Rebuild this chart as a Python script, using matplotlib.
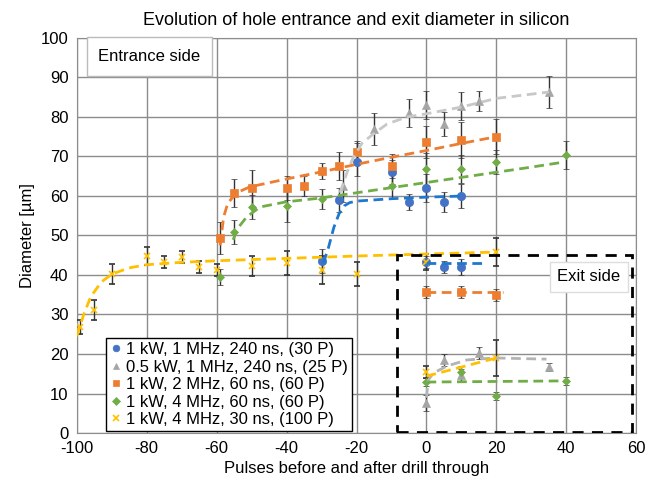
import matplotlib
matplotlib.use("Agg")
import matplotlib.pyplot as plt
from matplotlib.patches import Rectangle

plt.rcParams['font.family'] = ['Liberation Sans', 'DejaVu Sans']
plt.rcParams['axes.unicode_minus'] = False

# --- measured points (entrance side) ---
blue_x = [-30, -25, -20, -10, -5, 0, 5, 10]
blue_y = [43.5, 59, 68.5, 66, 58.5, 62, 58.5, 60]
blue_e = [3.0, 3.0, 3.5, 3.0, 2.0, 3.5, 2.5, 3.0]

gray_x = [-24, -20, -15, -5, 0, 5, 10, 15, 35]
gray_y = [62.5, 71, 77, 81, 83, 78.2, 82.8, 84, 86.3]
gray_e = [4.0, 3.0, 4.0, 3.5, 3.5, 3.0, 3.5, 2.5, 4.0]

orange_x = [-59, -55, -50, -40, -35, -30, -25, -20, -10, 0, 10, 20]
orange_y = [49.4, 60.8, 62, 62, 62.5, 66.3, 67.6, 71, 67.6, 73.7, 74.2, 75]
orange_e = [4.0, 3.5, 4.5, 3.0, 2.5, 2.0, 3.5, 2.5, 3.0, 4.0, 4.5, 4.5]

green_x = [-59, -55, -50, -40, -30, -10, 0, 10, 20, 40]
green_y = [39.5, 50.9, 57.2, 57.5, 59.2, 62.5, 66.8, 66.8, 68.6, 70.4]
green_e = [2.0, 3.0, 3.0, 4.0, 2.5, 3.0, 4.0, 3.5, 3.0, 3.5]

yellow_x = [-99, -95, -90, -80, -75, -70, -65, -60, -50, -40, -30, -20, 0, 20]
yellow_y = [26.8, 31.1, 40.2, 44.8, 43.3, 44.6, 42, 41.3, 42.2, 43, 41.3, 40.2, 43.3, 45.8]
yellow_e = [1.8, 2.5, 2.6, 2.2, 1.5, 1.5, 1.6, 1.5, 2.5, 3.0, 3.5, 3.0, 2.0, 3.5]

# --- measured points (exit side) ---
blue_exit_x = [0, 5, 10]
blue_exit_y = [43.3, 42, 42]
blue_exit_e = [1.5, 1.5, 2.0]

gray_exit_x = [0, 5, 10, 15, 35]
gray_exit_y = [7.6, 18.5, 14.7, 20.3, 16.8]
gray_exit_e = [2.0, 1.5, 1.5, 1.5, 1.0]

orange_exit_x = [0, 10, 20]
orange_exit_y = [35.7, 35.7, 34.9]
orange_exit_e = [1.5, 1.5, 1.5]

green_exit_x = [0, 10, 20, 40]
green_exit_y = [12.9, 15.4, 9.4, 13.2]
green_exit_e = [1.0, 1.5, 1.0, 1.0]

yellow_exit_x = [0, 20]
yellow_exit_y = [15.4, 19]
yellow_exit_e = [1.5, 4.5]

# --- trend lines ---
blue_fit_x = [-29.5, -28, -26.5, -25, -23.5, -22, -20, -10, 0, 11]
blue_fit_y = [43, 47, 52, 55.5, 57.5, 58.3, 58.7, 59.3, 59.7, 60]
gray_fit_x = [-24.7, -22.7, -21, -18.4, -15.6, -11.3, -5.6, 0, 10, 20, 35]
gray_fit_y = [60.8, 66, 69.6, 73.4, 75.4, 78.2, 80, 80.8, 82.5, 84.7, 86.3]
orange_fit_x = [-59, -58, -56.8, -54.3, -50.5, -40, -30, -20, -10, 0, 10, 20]
orange_fit_y = [47.5, 54.7, 58.2, 60.8, 62.3, 64.3, 66.1, 68, 69.8, 71.5, 73.3, 75]
green_fit_x = [-55.3, -53.9, -51.4, -47.6, -40.2, -30, -20, -10, 0, 10, 20, 30, 38]
green_fit_y = [48.9, 51.9, 54.7, 57.2, 58.5, 59.5, 60.8, 62.1, 63.4, 64.7, 66, 67.3, 68.4]
yellow_fit_x = [-100, -98, -96, -93, -90, -85, -80, -70, -60, -40, -20, 0, 20]
yellow_fit_y = [24.5, 30, 34.5, 38.2, 40.2, 41.8, 42.6, 43.2, 43.6, 44.2, 44.8, 45.3, 45.8]

blue_exit_fit_x = [0, 16]
blue_exit_fit_y = [43, 43]
orange_exit_fit_x = [0, 22]
orange_exit_fit_y = [35.6, 35.6]
gray_exit_fit_x = [0, 0.5, 2, 6, 11.6, 19.4, 34.3]
gray_exit_fit_y = [8.9, 13.4, 15.2, 17, 18.5, 19, 18.7]
yellow_exit_fit_x = [0, 20]
yellow_exit_fit_y = [14.4, 19]
green_exit_fit_x = [0, 40]
green_exit_fit_y = [12.9, 13.2]

labels = ['1 kW, 1 MHz, 240 ns, (30 P)',
          '0.5 kW, 1 MHz, 240 ns, (25 P)',
          '1 kW, 2 MHz, 60 ns, (60 P)',
          '1 kW, 4 MHz, 60 ns, (60 P)',
          '1 kW, 4 MHz, 30 ns, (100 P)']

fig = plt.figure(figsize=(6.56, 4.86), dpi=100)
ax = fig.add_axes([0.117, 0.109, 0.853, 0.813])

err_kw = dict(ecolor='#333333', elinewidth=1, capsize=2, capthick=1, linestyle='none', zorder=3)

series = [
    (blue_x, blue_y, blue_e, blue_exit_x, blue_exit_y, blue_exit_e, 'o', '#4472C4', 6),
    (gray_x, gray_y, gray_e, gray_exit_x, gray_exit_y, gray_exit_e, '^', '#A5A5A5', 6),
    (orange_x, orange_y, orange_e, orange_exit_x, orange_exit_y, orange_exit_e, 's', '#ED7D31', 6),
    (green_x, green_y, green_e, green_exit_x, green_exit_y, green_exit_e, 'D', '#70AD47', 4.5),
    (yellow_x, yellow_y, yellow_e, yellow_exit_x, yellow_exit_y, yellow_exit_e, 'x', '#FFC000', 5),
]

handles = []
for (x, y, e, xe, ye, ee, m, c, ms), lab in zip(series, labels):
    mw = 1.2 if m == 'x' else 0.5
    ax.errorbar(x, y, yerr=e, marker=m, color=c, ms=ms, mew=mw, **err_kw)
    ax.errorbar(xe, ye, yerr=ee, marker=m, color=c, ms=ms, mew=mw, **err_kw)
    h, = ax.plot([], [], marker=m, color=c, ms=ms * 0.8, mew=mw, linestyle='none', label=lab)
    handles.append(h)

fits = [
    (blue_fit_x, blue_fit_y, '#1F78D0'), (gray_fit_x, gray_fit_y, '#C8C8C8'),
    (orange_fit_x, orange_fit_y, '#ED7D31'), (green_fit_x, green_fit_y, '#70AD47'),
    (yellow_fit_x, yellow_fit_y, '#FFC000'),
    (blue_exit_fit_x, blue_exit_fit_y, '#1F78D0'), (gray_exit_fit_x, gray_exit_fit_y, '#B4B4B4'),
    (orange_exit_fit_x, orange_exit_fit_y, '#ED7D31'), (green_exit_fit_x, green_exit_fit_y, '#70AD47'),
    (yellow_exit_fit_x, yellow_exit_fit_y, '#FFC000'),
]
for fx, fy, c in fits:
    ax.plot(fx, fy, linestyle=(0, (3.5, 2)), color=c, lw=2, zorder=4)

ax.set_xlim(-100, 60)
ax.set_ylim(0, 100)
ax.set_xticks(range(-100, 61, 20))
ax.set_yticks(range(0, 101, 10))
ax.grid(True, color='#8c8c8c', lw=1)
ax.set_axisbelow(True)
for s in ax.spines.values():
    s.set_color('#8c8c8c')
ax.tick_params(length=0, labelsize=12, pad=6)

ax.set_title('Evolution of hole entrance and exit diameter in silicon', fontsize=13, pad=9)
ax.set_xlabel('Pulses before and after drill through', fontsize=12, labelpad=3)
ax.set_ylabel('Diameter [µm]', fontsize=12)

# exit side frame
ax.add_patch(Rectangle((-8.4, 0.2), 67.2, 44.8, fill=False, edgecolor='black',
                       lw=2, linestyle=(0, (4, 3)), zorder=5))

ax.text(-79.2, 95.3, 'Entrance side', fontsize=12, ha='center', va='center', zorder=6,
        bbox=dict(boxstyle='square,pad=0.7', fc='white', ec='#BBBBBB', lw=1))
ax.text(46.4, 39.5, 'Exit side', fontsize=12, ha='center', va='center', zorder=6,
        bbox=dict(boxstyle='square,pad=0.45', fc='white', ec='#DDDDDD', lw=1))

leg = ax.legend(handles=handles, loc='lower left', bbox_to_anchor=(0.05, 0.0), borderaxespad=0.1,
                fontsize=12, frameon=True, fancybox=False, edgecolor='black', framealpha=1,
                handlelength=0.6, handletextpad=0.3, borderpad=0.25, labelspacing=0.15)
leg.get_frame().set_linewidth(1)
leg.set_zorder(7)

fig.savefig('out.png', dpi=100)
